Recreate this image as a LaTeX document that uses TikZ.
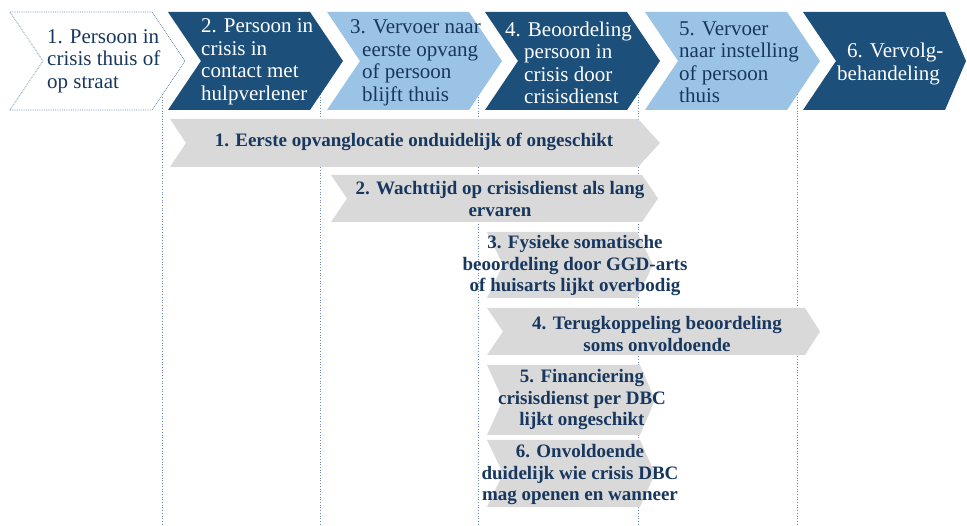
\documentclass[tikz,border=0pt]{standalone}
\usepackage{fontspec}
\setmainfont{Liberation Serif}
\usepackage{tikz}
\definecolor{donker}{RGB}{28,79,122}
\definecolor{licht}{RGB}{155,195,230}
\definecolor{grijs}{RGB}{217,217,217}
\definecolor{navy}{RGB}{23,55,94}
\definecolor{stip}{RGB}{110,140,178}
\tikzset{
  fase/.style={font=\fontsize{21}{22.5}\selectfont, align=left, anchor=west, inner sep=0pt},
  knelpunt/.style={font=\fontsize{19}{21.5}\selectfont\bfseries, align=center, text=navy, inner sep=0pt},
  stippel/.style={stip, dotted, line width=0.7pt}
}

\begin{document}
\begin{tikzpicture}[x=1pt,y=-1pt]
              \useasboundingbox (0,0) rectangle (967,526);
              % stippellijnen tussen de fasen
              \foreach \x in {162,320,478,638,797} \draw[stippel] (\x,62) -- (\x,526);
              % fasen
              \filldraw[fill=white,draw=stip,densely dotted,line width=0.8pt] (10,12) -- ++(142,0) -- ++(33,49) -- ++(-33,49) -- ++(-142,0) -- ++(33,-49) -- cycle;
              \foreach \l/\kleur in {168/donker,327/licht,485/donker,645/licht}
                \fill[\kleur] (\l,12) -- ++(142,0) -- ++(33,49) -- ++(-33,49) -- ++(-142,0) -- ++(33,-49) -- cycle;
              \fill[donker] (803,12) -- (945,12) -- (966,61) -- (945,110) -- (803,110) -- (836,61) -- cycle;
              \node[fase,text=navy] (f1) at (47,61) {1. Persoon in\\crisis thuis of\\op straat};
              \node[fase,text=white] (f2) at (201,62) {2. Persoon in\\crisis in\\contact met\\hulpverlener};
              \node[fase,text=navy] (f3) at (350,63) {3. Vervoer naar\\\hspace*{12pt}eerste opvang\\\hspace*{12pt}of persoon\\\hspace*{12pt}blijft thuis};
              \node[fase,text=white] (f4) at (505,63) {4. Beoordeling\\\hspace*{19pt}persoon in\\\hspace*{19pt}crisis door\\\hspace*{19pt}crisisdienst};
              \node[fase,text=navy] (f5) at (679,62) {5. Vervoer\\naar instelling\\of persoon\\thuis};
              \node[fase,text=white] (f6) at (837,64) {\hspace*{10pt}6. Vervolg-\\behandeling};
              % knelpunten
              \foreach \l/\r/\p/\t/\b in {170/638/660/119/167, 331/642/658/175/222, 487/637/653/232/298, 487/805/820/308/355, 487/640/655/365/435, 487/640/655/440/507}
                \fill[grijs] (\l,\t) -- (\r,\t) -- (\p,{(\t+\b)/2}) -- (\r,\b) -- (\l,\b) -- ({\l+16},{(\t+\b)/2}) -- cycle;
              \node[knelpunt] (k1) at (414,142) {1. Eerste opvanglocatie onduidelijk of ongeschikt};
              \node[knelpunt] (k2) at (500,199) {2. Wachttijd op crisisdienst als lang\\ervaren};
              \node[knelpunt] (k3) at (575,266) {3. Fysieke somatische\\beoordeling door GGD-arts\\of huisarts lijkt overbodig};
              \node[knelpunt] (k4) at (657,334) {4. Terugkoppeling beoordeling\\soms onvoldoende};
              \node[knelpunt] (k5) at (582,400) {5. Financiering\\crisisdienst per DBC\\lijkt ongeschikt};
              \node[knelpunt] (k6) at (580,475) {6. Onvoldoende\\duidelijk wie crisis DBC\\mag openen en wanneer};
            \end{tikzpicture}
\end{document}
